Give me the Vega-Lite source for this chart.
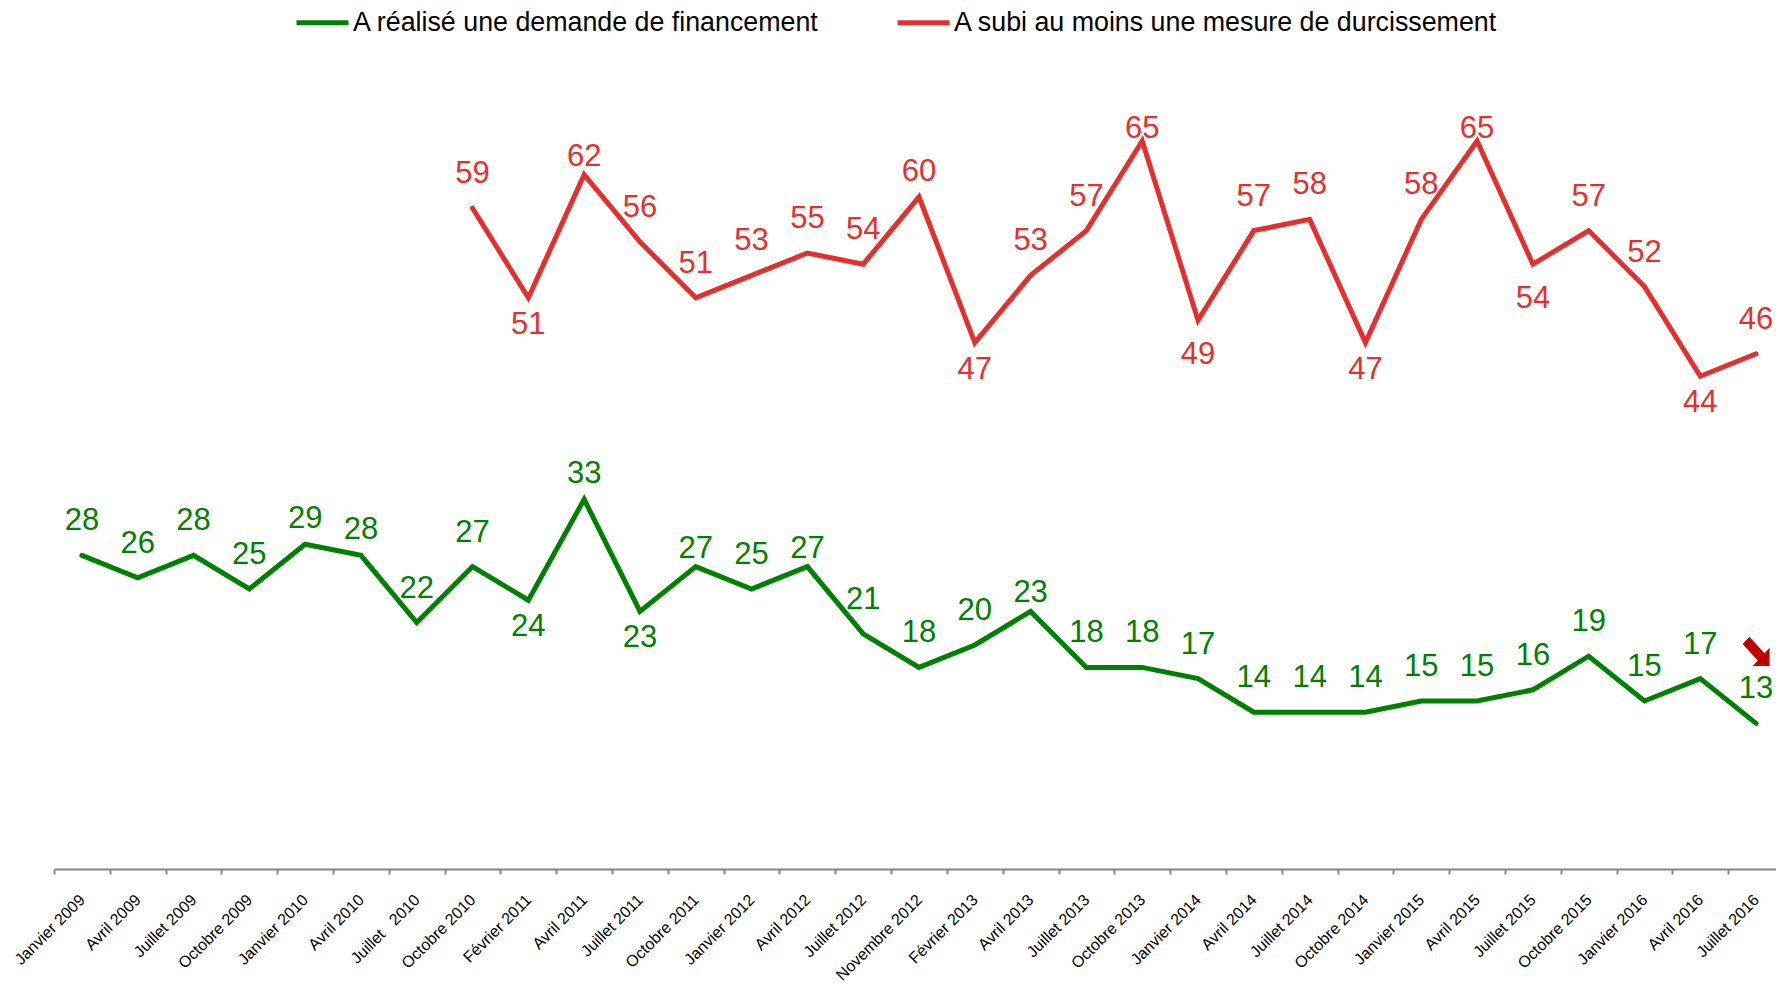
{
  "$schema": "https://vega.github.io/schema/vega-lite/v6.json",
  "width": 1722,
  "height": 784,
  "autosize": {"type": "none"},
  "padding": {"left": 54, "top": 85, "right": 0, "bottom": 118},
  "background": "white",
  "config": {"view": {"stroke": null}, "font": "Liberation Sans"},
  "data": {
    "values": [
      {"periode": "Janvier 2009", "serie": "A réalisé une demande de financement", "valeur": 28},
      {"periode": "Avril 2009", "serie": "A réalisé une demande de financement", "valeur": 26},
      {"periode": "Juillet 2009", "serie": "A réalisé une demande de financement", "valeur": 28},
      {"periode": "Octobre 2009", "serie": "A réalisé une demande de financement", "valeur": 25},
      {"periode": "Janvier 2010", "serie": "A réalisé une demande de financement", "valeur": 29},
      {"periode": "Avril 2010", "serie": "A réalisé une demande de financement", "valeur": 28},
      {"periode": "Juillet\u00a0\u00a0 2010", "serie": "A réalisé une demande de financement", "valeur": 22},
      {"periode": "Octobre 2010", "serie": "A réalisé une demande de financement", "valeur": 27},
      {"periode": "Février 2011", "serie": "A réalisé une demande de financement", "valeur": 24},
      {"periode": "Avril 2011", "serie": "A réalisé une demande de financement", "valeur": 33},
      {"periode": "Juillet 2011", "serie": "A réalisé une demande de financement", "valeur": 23},
      {"periode": "Octobre 2011", "serie": "A réalisé une demande de financement", "valeur": 27},
      {"periode": "Janvier 2012", "serie": "A réalisé une demande de financement", "valeur": 25},
      {"periode": "Avril 2012", "serie": "A réalisé une demande de financement", "valeur": 27},
      {"periode": "Juillet 2012", "serie": "A réalisé une demande de financement", "valeur": 21},
      {"periode": "Novembre 2012", "serie": "A réalisé une demande de financement", "valeur": 18},
      {"periode": "Février 2013", "serie": "A réalisé une demande de financement", "valeur": 20},
      {"periode": "Avril 2013", "serie": "A réalisé une demande de financement", "valeur": 23},
      {"periode": "Juillet 2013", "serie": "A réalisé une demande de financement", "valeur": 18},
      {"periode": "Octobre 2013", "serie": "A réalisé une demande de financement", "valeur": 18},
      {"periode": "Janvier 2014", "serie": "A réalisé une demande de financement", "valeur": 17},
      {"periode": "Avril 2014", "serie": "A réalisé une demande de financement", "valeur": 14},
      {"periode": "Juillet 2014", "serie": "A réalisé une demande de financement", "valeur": 14},
      {"periode": "Octobre 2014", "serie": "A réalisé une demande de financement", "valeur": 14},
      {"periode": "Janvier 2015", "serie": "A réalisé une demande de financement", "valeur": 15},
      {"periode": "Avril 2015", "serie": "A réalisé une demande de financement", "valeur": 15},
      {"periode": "Juillet 2015", "serie": "A réalisé une demande de financement", "valeur": 16},
      {"periode": "Octobre 2015", "serie": "A réalisé une demande de financement", "valeur": 19},
      {"periode": "Janvier 2016", "serie": "A réalisé une demande de financement", "valeur": 15},
      {"periode": "Avril 2016", "serie": "A réalisé une demande de financement", "valeur": 17},
      {"periode": "Juillet 2016", "serie": "A réalisé une demande de financement", "valeur": 13},
      {"periode": "Octobre 2010", "serie": "A subi au moins une mesure de durcissement", "valeur": 59},
      {"periode": "Février 2011", "serie": "A subi au moins une mesure de durcissement", "valeur": 51},
      {"periode": "Avril 2011", "serie": "A subi au moins une mesure de durcissement", "valeur": 62},
      {"periode": "Juillet 2011", "serie": "A subi au moins une mesure de durcissement", "valeur": 56},
      {"periode": "Octobre 2011", "serie": "A subi au moins une mesure de durcissement", "valeur": 51},
      {"periode": "Janvier 2012", "serie": "A subi au moins une mesure de durcissement", "valeur": 53},
      {"periode": "Avril 2012", "serie": "A subi au moins une mesure de durcissement", "valeur": 55},
      {"periode": "Juillet 2012", "serie": "A subi au moins une mesure de durcissement", "valeur": 54},
      {"periode": "Novembre 2012", "serie": "A subi au moins une mesure de durcissement", "valeur": 60},
      {"periode": "Février 2013", "serie": "A subi au moins une mesure de durcissement", "valeur": 47},
      {"periode": "Avril 2013", "serie": "A subi au moins une mesure de durcissement", "valeur": 53},
      {"periode": "Juillet 2013", "serie": "A subi au moins une mesure de durcissement", "valeur": 57},
      {"periode": "Octobre 2013", "serie": "A subi au moins une mesure de durcissement", "valeur": 65},
      {"periode": "Janvier 2014", "serie": "A subi au moins une mesure de durcissement", "valeur": 49},
      {"periode": "Avril 2014", "serie": "A subi au moins une mesure de durcissement", "valeur": 57},
      {"periode": "Juillet 2014", "serie": "A subi au moins une mesure de durcissement", "valeur": 58},
      {"periode": "Octobre 2014", "serie": "A subi au moins une mesure de durcissement", "valeur": 47},
      {"periode": "Janvier 2015", "serie": "A subi au moins une mesure de durcissement", "valeur": 58},
      {"periode": "Avril 2015", "serie": "A subi au moins une mesure de durcissement", "valeur": 65},
      {"periode": "Juillet 2015", "serie": "A subi au moins une mesure de durcissement", "valeur": 54},
      {"periode": "Octobre 2015", "serie": "A subi au moins une mesure de durcissement", "valeur": 57},
      {"periode": "Janvier 2016", "serie": "A subi au moins une mesure de durcissement", "valeur": 52},
      {"periode": "Avril 2016", "serie": "A subi au moins une mesure de durcissement", "valeur": 44},
      {"periode": "Juillet 2016", "serie": "A subi au moins une mesure de durcissement", "valeur": 46}
    ]
  },
  "encoding": {
    "x": {
      "field": "periode",
      "type": "nominal",
      "bandPosition": 0.5,
      "scale": {
        "type": "band",
        "domain": ["Janvier 2009", "Avril 2009", "Juillet 2009", "Octobre 2009", "Janvier 2010", "Avril 2010", "Juillet\u00a0\u00a0 2010", "Octobre 2010", "Février 2011", "Avril 2011", "Juillet 2011", "Octobre 2011", "Janvier 2012", "Avril 2012", "Juillet 2012", "Novembre 2012", "Février 2013", "Avril 2013", "Juillet 2013", "Octobre 2013", "Janvier 2014", "Avril 2014", "Juillet 2014", "Octobre 2014", "Janvier 2015", "Avril 2015", "Juillet 2015", "Octobre 2015", "Janvier 2016", "Avril 2016", "Juillet 2016"],
        "range": [0, 1730],
        "paddingInner": 0,
        "paddingOuter": 0
      },
      "axis": {
        "title": null,
        "grid": false,
        "tickBand": "extent",
        "domainColor": "#868686",
        "domainWidth": 2,
        "tickColor": "#868686",
        "tickWidth": 2,
        "tickSize": 5,
        "labelFont": "Liberation Sans",
        "labelFontSize": 16,
        "labelColor": "#000000",
        "labelAngle": -45,
        "labelAlign": "right",
        "labelBaseline": "middle",
        "labelPadding": 23,
        "labelOverlap": false,
        "labelFlush": false,
        "labelBound": false,
        "labelLimit": 0
      }
    },
    "y": {
      "field": "valeur",
      "type": "quantitative",
      "scale": {"domain": [0, 70], "nice": false, "zero": true},
      "axis": null
    },
    "color": {
      "field": "serie",
      "type": "nominal",
      "scale": {
        "domain": ["A réalisé une demande de financement", "A subi au moins une mesure de durcissement"],
        "range": ["#008000", "#E3302F"]
      },
      "legend": {
        "orient": "none",
        "legendX": 240,
        "legendY": -91,
        "direction": "horizontal",
        "title": null,
        "symbolType": "stroke",
        "symbolSize": 2704,
        "symbolStrokeWidth": 5,
        "labelFont": "Liberation Sans",
        "labelFontSize": 26.8,
        "labelColor": "#000000",
        "labelOffset": 2,
        "columnPadding": 67,
        "padding": 0,
        "labelLimit": 0
      }
    }
  },
  "layer": [
    {
      "mark": {"type": "line", "strokeWidth": 5, "strokeCap": "round", "strokeJoin": "miter"}
    },
    {
      "transform": [{"filter": "(datum.serie == 'A réalisé une demande de financement' && indexof(['Janvier 2010','Avril 2010','Avril 2011','Octobre 2011','Avril 2012','Avril 2013','Février 2011','Juillet 2011'], datum.periode) < 0) || (datum.serie == 'A subi au moins une mesure de durcissement' && indexof(['Février 2011','Avril 2011','Novembre 2012','Février 2013','Octobre 2013','Janvier 2014','Octobre 2014','Avril 2015','Juillet 2015','Avril 2016'], datum.periode) < 0)"}],
      "mark": {"type": "text", "fontSize": 31, "font": "Liberation Sans", "baseline": "middle", "align": "center", "dy": -34},
      "encoding": {"text": {"field": "valeur", "type": "quantitative"}}
    },
    {
      "transform": [{"filter": "(datum.serie == 'A réalisé une demande de financement' && indexof(['Janvier 2010','Avril 2010','Avril 2011'], datum.periode) >= 0) || (datum.serie == 'A subi au moins une mesure de durcissement' && datum.periode == 'Novembre 2012')"}],
      "mark": {"type": "text", "fontSize": 31, "font": "Liberation Sans", "baseline": "middle", "align": "center", "dy": -25},
      "encoding": {"text": {"field": "valeur", "type": "quantitative"}}
    },
    {
      "transform": [{"filter": "(datum.serie == 'A réalisé une demande de financement' && indexof(['Octobre 2011','Avril 2012','Avril 2013'], datum.periode) >= 0) || (datum.serie == 'A subi au moins une mesure de durcissement' && datum.periode == 'Avril 2011')"}],
      "mark": {"type": "text", "fontSize": 31, "font": "Liberation Sans", "baseline": "middle", "align": "center", "dy": -18},
      "encoding": {"text": {"field": "valeur", "type": "quantitative"}}
    },
    {
      "transform": [{"filter": "datum.serie == 'A subi au moins une mesure de durcissement' && indexof(['Octobre 2013','Avril 2015'], datum.periode) >= 0"}],
      "mark": {"type": "text", "fontSize": 31, "font": "Liberation Sans", "baseline": "middle", "align": "center", "dy": -12},
      "encoding": {"text": {"field": "valeur", "type": "quantitative"}}
    },
    {
      "transform": [{"filter": "(datum.serie == 'A réalisé une demande de financement' && indexof(['Février 2011','Juillet 2011'], datum.periode) >= 0) || (datum.serie == 'A subi au moins une mesure de durcissement' && indexof(['Février 2011','Février 2013','Octobre 2014','Avril 2016'], datum.periode) >= 0)"}],
      "mark": {"type": "text", "fontSize": 31, "font": "Liberation Sans", "baseline": "middle", "align": "center", "dy": 27},
      "encoding": {"text": {"field": "valeur", "type": "quantitative"}}
    },
    {
      "transform": [{"filter": "datum.serie == 'A subi au moins une mesure de durcissement' && indexof(['Janvier 2014','Juillet 2015'], datum.periode) >= 0"}],
      "mark": {"type": "text", "fontSize": 31, "font": "Liberation Sans", "baseline": "middle", "align": "center", "dy": 35},
      "encoding": {"text": {"field": "valeur", "type": "quantitative"}}
    },
    {
      "transform": [{"filter": "datum.serie == 'A réalisé une demande de financement' && datum.periode == 'Juillet 2016'"}],
      "mark": {"type": "point", "shape": "M-0.5,-1.08L0.625,0.135L1,-0.27L1,1.08L-0.25,1.08L0.125,0.675L-1,-0.54Z", "filled": true, "size": 729, "yOffset": -72, "opacity": 1, "strokeWidth": 0},
      "encoding": {"color": {"value": "#C00000"}}
    }
  ]
}
